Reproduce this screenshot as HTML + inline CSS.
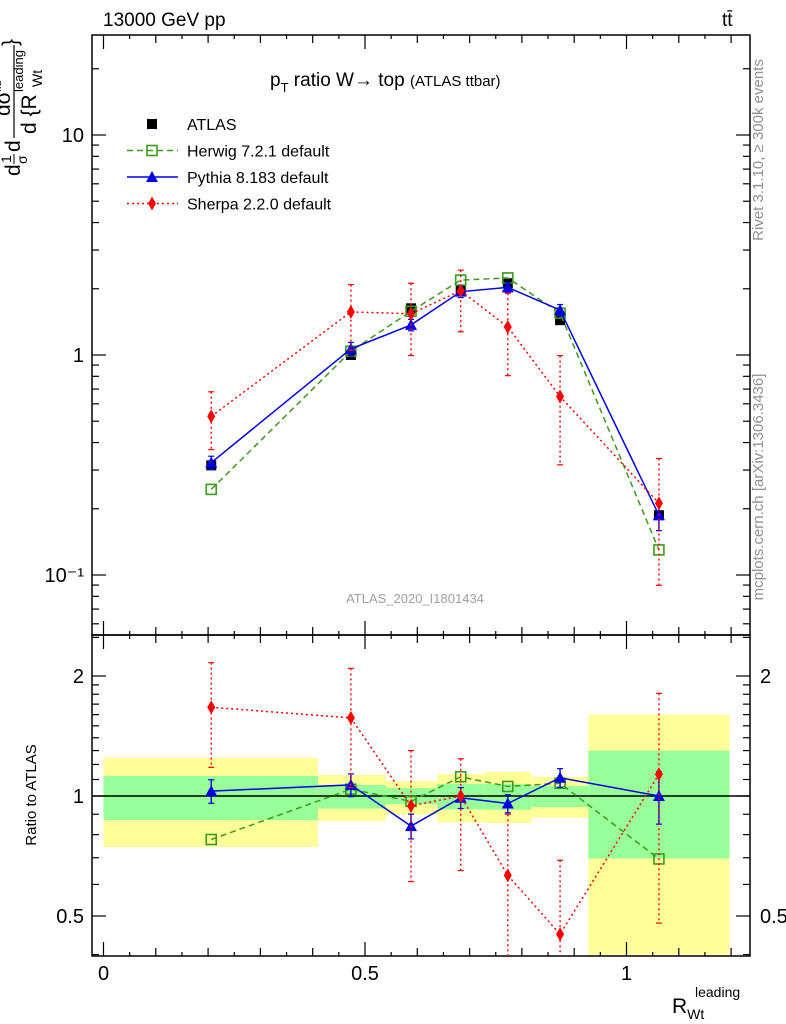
<!DOCTYPE html>
<html><head><meta charset="utf-8"><style>
html,body{margin:0;padding:0;background:#fff;}
svg{display:block;font-family:"Liberation Sans",Arial,sans-serif;}
</style></head><body>
<svg id="chart" width="786" height="1024" viewBox="0 0 786 1024" xmlns="http://www.w3.org/2000/svg">
<defs>
<clipPath id="clipMain"><rect x="92" y="35" width="658" height="600"/></clipPath>
<clipPath id="clipRatio"><rect x="92" y="635" width="658" height="321"/></clipPath>
</defs>
<g id="layer"></g>
<text x="103" y="26" font-size="19">13000 GeV pp</text>
<text x="722" y="26" font-size="19">tt̄</text>
<text x="270" y="86" font-size="19">p<tspan font-size="13" dy="6">T</tspan><tspan dy="-6"> ratio W</tspan>→<tspan> top </tspan><tspan font-size="15">(ATLAS ttbar)</tspan></text>
<text x="415" y="603" font-size="13" fill="#a0a0a0" text-anchor="middle">ATLAS_2020_I1801434</text>
<text transform="translate(763,150) rotate(-90)" font-size="15" fill="#909090" text-anchor="middle">Rivet 3.1.10, ≥ 300k events</text>
<text transform="translate(763,487) rotate(-90)" font-size="15" fill="#909090" text-anchor="middle">mcplots.cern.ch [arXiv:1306.3436]</text>
<g transform="translate(0,176) rotate(-90)">
<text x="0" y="20" font-size="21">d</text>
<text x="13" y="11" font-size="14">1</text>
<text x="12" y="27" font-size="14">σ</text>
<line x1="12" x2="22" y1="14" y2="14" stroke="#000" stroke-width="1"/>
<text x="24" y="20" font-size="21">d</text>
<text x="60" y="10" font-size="21">dσ</text>
<text x="84" y="1" font-size="11">fid</text>
<line x1="38" x2="131" y1="14" y2="14" stroke="#000" stroke-width="1.2"/>
<text x="42" y="36" font-size="21">d {R</text>
<text x="89" y="42" font-size="14">Wt</text>
<text x="84" y="23" font-size="13">leading</text>
<text x="130" y="17" font-size="21">}</text>
</g>
<text transform="translate(36,795) rotate(-90)" font-size="15" text-anchor="middle">Ratio to ATLAS</text>
<g>
<text x="672" y="1013" font-size="21">R<tspan font-size="14" dy="6">Wt</tspan></text>
<text x="695" y="997" font-size="14">leading</text>
</g>
<g font-size="16" id="legend"></g>
</svg>
<script>
// ---- data ----
const binCenters = [0.206, 0.473, 0.588, 0.683, 0.773, 0.873, 1.062];
const binEdges = [0, 0.41, 0.54, 0.638, 0.728, 0.818, 0.927, 1.197];
const atlasVals = [0.315, 1.0, 1.63, 1.96, 2.12, 1.44, 0.187];
const herwigVals = [0.245, 1.04, 1.58, 2.19, 2.24, 1.55, 0.13];
const pythiaVals = [0.324, 1.066, 1.37, 1.94, 2.03, 1.6, 0.187];
const pythiaErrRatio = [0.07, 0.07, 0.06, 0.06, 0.05, 0.06, 0.15];
const sherpaVals = [0.526, 1.57, 1.54, 1.96, 1.34, 0.648, 0.212];
const sherpaRatioUp = [2.16, 2.09, 1.30, 1.24, 0.90, 0.69, 1.81];
const sherpaRatioDn = [1.18, 1.05, 0.61, 0.65, 0.38, 0.22, 0.48];
const bandYellowHi = [1.247, 1.129, 1.09, 1.135, 1.149, 1.118, 1.601];
const bandYellowLo = [0.745, 0.866, 0.899, 0.858, 0.855, 0.881, 0.40];
const bandGreenHi = [1.123, 1.066, 1.047, 1.072, 1.072, 1.06, 1.299];
const bandGreenLo = [0.87, 0.93, 0.955, 0.925, 0.923, 0.938, 0.697];
const xTickLabels = ["0", "0.5", "1"];
const mainYTickLabels = ["10⁻¹", "1", "10"];
const ratioYTickLabels = ["0.5", "1", "2"];
const ratioYRightLabels = ["0.5", "2"];

// ---- axes ----
const NS = "http://www.w3.org/2000/svg";
const xs = v => 103.5 + v * 523;
const ym = v => 355 - 220 * Math.log10(v);
const yr = r => 796 - 398.6 * Math.log10(r);
const layer = document.getElementById('layer');
function mk(tag, attrs, parent) {
  const e = document.createElementNS(NS, tag);
  for (const k in attrs) e.setAttribute(k, attrs[k]);
  (parent || layer).appendChild(e);
  return e;
}
let el;
const gBand = mk('g', {'clip-path': 'url(#clipRatio)'});


for (let i = 0; i < binCenters.length; i++) {
  el = mk('rect', {x: xs(binEdges[i]), y: yr(bandYellowHi[i]), width: xs(binEdges[i+1]) - xs(binEdges[i]), height: yr(bandYellowLo[i]) - yr(bandYellowHi[i]), fill: '#ffff99'}, gBand);
  
  
  el = mk('rect', {x: xs(binEdges[i]), y: yr(bandGreenHi[i]), width: xs(binEdges[i+1]) - xs(binEdges[i]), height: yr(bandGreenLo[i]) - yr(bandGreenHi[i]), fill: '#99ff99'}, gBand);
  
  
}
el = mk('line', {x1: 92, x2: 750, y1: yr(1), y2: yr(1), stroke: '#000', 'stroke-width': 1.5});



// frames
el = mk('rect', {x: 92, y: 35, width: 658, height: 600, fill: 'none', stroke: '#000', 'stroke-width': 1.5});


el = mk('rect', {x: 92, y: 635, width: 658, height: 321, fill: 'none', stroke: '#000', 'stroke-width': 1.5});



// x ticks
const gx = mk('g', {stroke: '#000', 'stroke-width': 1.2});


for (let k = 0; k <= 24; k++) {
  const v = k * 0.05, x = xs(v);
  const len = (k % 10 === 0) ? 14 : (k % 2 === 0 ? 8 : 4);
  mk('line', {x1: x, x2: x, y1: 35, y2: 35 + len}, gx);
  mk('line', {x1: x, x2: x, y1: 635, y2: 635 - len}, gx);
  mk('line', {x1: x, x2: x, y1: 635, y2: 635 + len}, gx);
  mk('line', {x1: x, x2: x, y1: 956, y2: 956 - len}, gx);
}
xTickLabels.forEach((t, i) => {
  el = mk('text', {x: xs(i * 0.5), y: 980, 'font-size': 20, 'text-anchor': 'middle'});
  el.textContent = t;
  
  
});
// main y ticks
const gy = mk('g', {stroke: '#000', 'stroke-width': 1.2});


for (let d = -2; d <= 1; d++) for (let m = 1; m <= 9; m++) {
  const v = m * Math.pow(10, d), y = ym(v);
  if (y < 35 || y > 635) continue;
  const len = m === 1 ? 14 : 7;
  mk('line', {x1: 92, x2: 92 + len, y1: y, y2: y}, gy);
  mk('line', {x1: 750, x2: 750 - len, y1: y, y2: y}, gy);
}
mainYTickLabels.forEach((t, i) => {
  el = mk('text', {x: 84, y: ym(Math.pow(10, i - 1)) + 7, 'font-size': 20, 'text-anchor': 'end'});
  el.textContent = t;
  
  
});
// ratio y ticks
const gr = mk('g', {stroke: '#000', 'stroke-width': 1.2});


[0.4,0.5,0.6,0.7,0.8,0.9,1,1.1,1.2,1.3,1.4,1.5,1.6,1.7,1.8,1.9,2,2.5].forEach(v => {
  const y = yr(v);
  if (y < 635 || y > 956) return;
  const len = (v === 0.5 || v === 1 || v === 2) ? 14 : 7;
  mk('line', {x1: 92, x2: 92 + len, y1: y, y2: y}, gr);
  mk('line', {x1: 750, x2: 750 - len, y1: y, y2: y}, gr);
});
ratioYTickLabels.forEach(t => {
  el = mk('text', {x: 84, y: yr(parseFloat(t)) + 7, 'font-size': 20, 'text-anchor': 'end'});
  el.textContent = t;
  
  
});
ratioYRightLabels.forEach(t => {
  el = mk('text', {x: 760, y: yr(parseFloat(t)) + 7, 'font-size': 20});
  el.textContent = t;
  
  
});

// markers
function marker(kind, x, y, g) {
  if (kind === 'sq') return mk('rect', {x: x - 5, y: y - 5, width: 10, height: 10, fill: '#000'}, g);
  if (kind === 'osq') return mk('rect', {x: x - 5, y: y - 5, width: 10, height: 10, fill: 'none', stroke: '#3d9a1c', 'stroke-width': 1.6}, g);
  if (kind === 'tri') return mk('polygon', {points: `${x},${y-6} ${x-6},${y+5} ${x+6},${y+5}`, fill: '#0000e6'}, g);
  return mk('polygon', {points: `${x},${y-7} ${x-4},${y} ${x},${y+7} ${x+4},${y}`, fill: '#ff0000'}, g);
}
function errbar(x, y1, y2, color, dash, g) {
  mk('line', {x1: x, x2: x, y1: y1, y2: y2, stroke: color, 'stroke-width': 1.4, 'stroke-dasharray': dash}, g);
  mk('line', {x1: x - 3, x2: x + 3, y1: y1, y2: y1, stroke: color, 'stroke-width': 1.2}, g);
  mk('line', {x1: x - 3, x2: x + 3, y1: y2, y2: y2, stroke: color, 'stroke-width': 1.2}, g);
}
function series(name, vals, ymap, color, dash, kind, clip, errFn) {
  const g = mk('g', {'clip-path': clip});
  
  
  if (color) {
    el = mk('polyline', {points: vals.map((v, i) => xs(binCenters[i]) + ',' + ymap(v)).join(' '), fill: 'none', stroke: color, 'stroke-width': 1.5, 'stroke-dasharray': dash}, g);
    
    
  }
  vals.forEach((v, i) => {
    if (errFn) { const e = errFn(i); errbar(xs(binCenters[i]), ymap(e[0]), ymap(e[1]), color, dash === '6,4' ? 'none' : dash, g); }
    el = marker(kind, xs(binCenters[i]), ymap(v), g);
    
    
  });
}
// main panel
series('atlas-data', atlasVals, ym, null, '', 'sq', 'url(#clipMain)', null);
series('herwig-main', herwigVals, ym, '#3d9a1c', '6,4', 'osq', 'url(#clipMain)', null);
series('pythia-main', pythiaVals, ym, '#0000e6', 'none', 'tri', 'url(#clipMain)', i => [pythiaVals[i] * (1 + pythiaErrRatio[i]), pythiaVals[i] * (1 - pythiaErrRatio[i])]);
series('sherpa-main', sherpaVals, ym, '#ff0000', '2,3', 'dia', 'url(#clipMain)', i => [atlasVals[i] * sherpaRatioUp[i], atlasVals[i] * sherpaRatioDn[i]]);
// ratio panel
const herwigRatio = herwigVals.map((v, i) => v / atlasVals[i]);
const pythiaRatio = pythiaVals.map((v, i) => v / atlasVals[i]);
const sherpaRatio = sherpaVals.map((v, i) => v / atlasVals[i]);
series('herwig-ratio', herwigRatio, yr, '#3d9a1c', '6,4', 'osq', 'url(#clipRatio)', null);
series('pythia-ratio', pythiaRatio, yr, '#0000e6', 'none', 'tri', 'url(#clipRatio)', i => [pythiaRatio[i] + pythiaErrRatio[i], pythiaRatio[i] - pythiaErrRatio[i]]);
series('sherpa-ratio', sherpaRatio, yr, '#ff0000', '2,3', 'dia', 'url(#clipRatio)', i => [sherpaRatioUp[i], sherpaRatioDn[i]]);

// legend
const leg = document.getElementById('legend');
const legendItems = [['ATLAS', 'sq', null, ''], ['Herwig 7.2.1 default', 'osq', '#3d9a1c', '6,4'], ['Pythia 8.183 default', 'tri', '#0000e6', 'none'], ['Sherpa 2.2.0 default', 'dia', '#ff0000', '2,3']];
legendItems.forEach((it, i) => {
  const y = 124 + i * 26.5;
  if (it[2]) {
    el = mk('line', {x1: 127, x2: 178, y1: y, y2: y, stroke: it[2], 'stroke-width': 1.5, 'stroke-dasharray': it[3]}, leg);
    
    
  }
  el = marker(it[1], 152, y, leg);
  
  
  el = mk('text', {x: 187, y: y + 6}, leg);
  el.textContent = it[0];
  
  
});
</script>
</body></html>
